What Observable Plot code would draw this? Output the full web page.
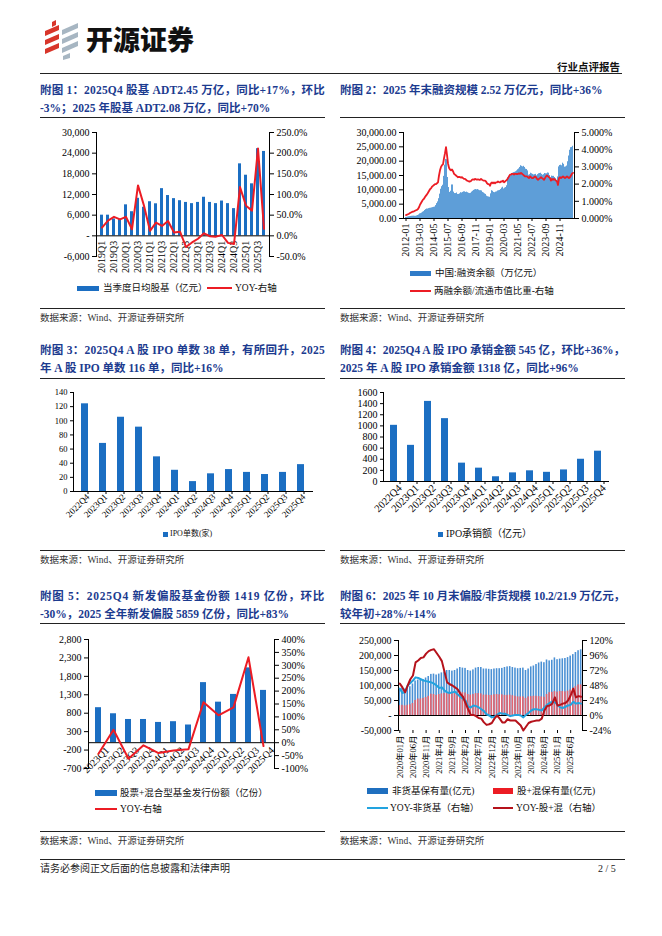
<!DOCTYPE html>
<html><head><meta charset="utf-8">
<script src="https://cdn.jsdelivr.net/npm/d3@7"></script>
<script src="https://cdn.jsdelivr.net/npm/@observablehq/plot@0.6"></script>
<style>
body{margin:0;background:#fff;}
#page{position:relative;width:662px;height:936px;overflow:hidden;background:#fff;font-family:"Liberation Serif","Noto Sans CJK SC",serif;}
.title{position:absolute;color:#1c3b8f;font-weight:bold;font-size:11.5px;line-height:18px;white-space:nowrap;}
.title span{display:inline-block;}
.hline{position:absolute;height:0;border-top:1px solid #222;}
.src{position:absolute;font-size:9.5px;line-height:12px;color:#333;white-space:nowrap;}
.leg{position:absolute;font-size:9.5px;line-height:12px;white-space:nowrap;color:#111;}
.sw{position:absolute;}
.chart{position:absolute;}
.chart svg{position:absolute;left:0;top:0;overflow:visible;}
</style></head>
<body><div id="page"></div>
<script>
// ---------------- DATA ----------------
// Chart 1: quarterly stock+fund ADT (亿元) and YoY (%)
const c1Quarters = ["2019Q1","2019Q2","2019Q3","2019Q4","2020Q1","2020Q2","2020Q3","2020Q4","2021Q1","2021Q2","2021Q3","2021Q4","2022Q1","2022Q2","2022Q3","2022Q4","2023Q1","2023Q2","2023Q3","2023Q4","2024Q1","2024Q2","2024Q3","2024Q4","2025Q1","2025Q2","2025Q3","2025Q4"];
const c1Adt = [6000,6000,4900,4800,9000,7000,10900,8300,9900,9300,13700,11700,10800,10200,9700,9350,9700,11200,9700,9350,10100,9350,7900,20900,17600,15100,25300,24500];
const c1Yoy = [20,37,46,40,46,16,122,73,12,32,24,36,8,10,-27,-16,-7,6,-1,-2,2,-17,-20,118,73,61,211,17];
const c1TickLabels = ["2019Q1","2019Q3","2020Q1","2020Q3","2021Q1","2021Q3","2022Q1","2022Q3","2023Q1","2023Q3","2024Q1","2024Q3","2025Q1","2025Q3"];
const c1LeftTicks = [-6000,0,6000,12000,18000,24000,30000];
const c1RightTicks = [-50,0,50,100,150,200,250];

// Chart 2: monthly margin financing balance (亿元) and ratio (%)
const c2Years = [2012,2013,2014,2015,2016,2017,2018,2019,2020,2021,2022,2023,2024,2025];
const c2Balance = [
 380,420,520,600,660,720,780,800,820,780,780,900,
 1050,1250,1600,1700,1900,2200,2400,2800,3100,3300,3300,3450,
 3550,3600,3700,3800,3900,4000,4500,5200,5800,6900,8500,10200,
 11100,11600,14700,18600,20600,20500,14300,10800,9100,9500,11700,11700,
 9200,8700,8700,8900,8400,8400,8600,9000,8900,9100,9300,9300,
 9100,9200,9000,8800,8700,8800,9200,9500,9800,10000,10100,10000,
 10100,9900,9700,9700,9600,9100,8900,8600,8400,7800,7600,7500,
 7400,8600,9700,9500,9100,9000,9200,9300,9600,9700,9800,10100,
 10600,10900,10300,10600,10800,11400,14200,14700,14600,14900,15600,15800,
 16000,16100,16300,16600,17000,17300,17800,18400,18200,18000,18200,17800,
 17200,17100,16600,15100,15300,15800,15600,15400,15200,15300,15400,14900,
 15300,15600,15700,15800,15400,15100,15300,15700,15600,15600,15900,15800,
 15000,14200,14800,14700,14700,14300,13900,13300,14500,18000,18500,18600,
 18400,19300,18900,17900,18000,18300,19800,21800,23800,24700,24800,25200];
const c2Ratio = [
 0.20,0.22,0.25,0.28,0.32,0.35,0.38,0.40,0.42,0.45,0.48,0.50,
 0.55,0.65,0.80,0.90,1.00,1.10,1.15,1.25,1.33,1.40,1.50,1.60,
 1.70,1.75,1.85,1.90,1.95,2.00,2.00,2.05,2.10,2.50,2.80,3.00,
 3.10,3.15,3.50,3.80,4.15,3.70,3.20,2.95,2.85,2.80,2.85,2.75,
 2.60,2.55,2.50,2.45,2.40,2.42,2.40,2.38,2.40,2.35,2.30,2.30,
 2.25,2.20,2.18,2.15,2.15,2.18,2.25,2.28,2.25,2.30,2.28,2.25,
 2.28,2.25,2.25,2.30,2.25,2.22,2.20,2.20,2.15,2.05,2.00,2.00,
 1.90,2.05,2.10,2.05,2.10,2.05,2.10,2.10,2.15,2.12,2.10,2.15,
 2.15,2.20,2.10,2.15,2.20,2.25,2.35,2.45,2.55,2.55,2.60,2.60,
 2.55,2.60,2.60,2.58,2.60,2.62,2.60,2.65,2.60,2.55,2.50,2.45,
 2.45,2.45,2.40,2.35,2.45,2.40,2.35,2.35,2.40,2.45,2.40,2.30,
 2.25,2.30,2.35,2.40,2.35,2.30,2.25,2.35,2.45,2.50,2.45,2.40,
 2.35,2.20,2.30,2.25,2.30,2.25,2.20,2.15,1.95,2.35,2.40,2.35,
 2.40,2.45,2.40,2.35,2.40,2.45,2.40,2.35,2.40,2.50,2.60,2.65];
const c2TickLabels = ["2012-01","2013-03","2014-05","2015-07","2016-09","2017-11","2019-01","2020-03","2021-05","2022-07","2023-09","2024-11"];
const c2LeftTicks = [0,5000,10000,15000,20000,25000,30000];
const c2RightTicks = [0,1,2,3,4,5];

// Chart 3 & 4: quarterly A-share IPO count and underwriting amount (亿元)
const c34Quarters = ["2022Q4","2023Q1","2023Q2","2023Q3","2023Q4","2024Q1","2024Q2","2024Q3","2024Q4","2025Q1","2025Q2","2025Q3","2025Q4"];
const c3Count = [124,68,105,91,49,30,14,25,31,27,24,27,38];
const c3Ticks = [0,20,40,60,80,100,120,140];
const c4Amount = [1010,650,1440,1130,330,240,85,155,192,165,208,400,545];
const c4Ticks = [0,200,400,600,800,1000,1200,1400,1600];

// Chart 5: new equity+hybrid fund issuance (亿份) and YoY (%)
const c5Quarters = ["2023Q1","2023Q2","2023Q3","2023Q4","2024Q1","2024Q2","2024Q3","2024Q4","2025Q1","2025Q2","2025Q3","2025Q4"];
const c5Issue = [950,785,630,630,550,570,480,1630,1100,1310,2030,1419];
const c5Yoy = [-43,50,-62,-10,-40,-30,-25,157,106,137,331,-13];
const c5LeftTicks = [-700,-200,300,800,1300,1800,2300,2800];
const c5RightTicks = [-100,-50,0,50,100,150,200,250,300,350,400];

// Chart 6: monthly non-money fund AUM & equity+hybrid AUM (亿元), YoY (%)
const c6Start = 2020, c6Count = 70;
const c6NonMoney = [
 90000,92000,88000,93000,96000,105000,115000,118000,118000,120000,125000,130000,
 137000,138000,135000,138000,142000,145000,150000,150000,148000,150000,155000,160000,
 158000,157000,150000,148000,152000,158000,160000,160000,155000,155000,154000,153000,
 155000,156000,156000,157000,160000,162000,163000,160000,158000,156000,157000,158000,
 150000,155000,162000,165000,170000,175000,178000,176000,185000,182000,184000,192000,
 186000,188000,189000,190000,193000,198000,203000,210000,216000,219000];
const c6Equity = [
 33000,34000,32000,34000,36000,40000,50000,55000,55000,57000,60000,64000,
 71000,70000,67000,70000,72000,73000,76000,76000,74000,75000,77000,79000,
 76000,75000,70000,68000,70000,73000,73000,72000,68000,68000,67000,67000,
 69000,70000,69000,69000,67000,67000,68000,66000,64000,62000,62000,62000,
 57000,62000,63000,64000,64000,63000,62000,61000,70000,76000,77000,79700,
 78000,80000,80000,79000,81000,85000,90000,96000,102000,102000];
const c6YoyNonMoney = [
 43,36,38,48,52,56,61,60,58,56,55,54,
 53,51,48,44,45,40,37,36,37,38,34,30,
 27,24,14,13,16,15,13,10,7,2,0,-3,
 -2,1,4,3,3,1,-1,0,1,1,0,-3,
 1,4,8,10,10,9,8,13,17,20,22,21,
 17,13,12,14,16,17,22,19,20,19];
const c6YoyEquity = [
 51,45,37,48,58,64,85,88,92,93,99,103,
 105,106,100,94,87,70,53,50,48,45,42,35,
 30,20,10,1,1,-1,-4,-5,-11,-15,-14,-12,
 -5,0,-5,-11,-11,-6,-8,-8,-8,-12,-16,-24,
 -18,-12,-10,-9,-8,-8,-5,8,15,16,19,29,
 16,17,19,20,24,32,43,29,31,30];
const c6TickKeys = ["2020-01","2020-06","2020-11","2021-04","2021-09","2022-02","2022-07","2022-12","2023-05","2023-10","2024-03","2024-08","2025-01","2025-06"];
const c6TickLabels = ["2020年01月","2020年06月","2020年11月","2021年4月","2021年9月","2022年2月","2022年7月","2022年12月","2023年5月","2023年10月","2024年3月","2024年8月","2025年1月","2025年6月"];
const c6LeftTicks = [-50000,0,50000,100000,150000,200000,250000];
const c6RightTicks = [-24,0,24,48,72,96,120];

// ---------------- HELPERS ----------------
const page = document.getElementById("page");
const serif = '"Liberation Serif","Times New Roman","Noto Sans CJK SC",serif';
const C = {blue:"#1b6ec2", red:"#ec1c24", navy:"#1c3b8f"};
const st = fs => ({fontFamily: serif, fontSize: fs + "px", color: "#000", background: "transparent", overflow: "visible"});
const acct = d => d === 0 ? "-" : (d < 0 ? "-" : "") + d3.format(",")(Math.abs(d));
const signed = d => (d < 0 ? "-" : "") + d3.format(",")(Math.abs(d));

function el(tag, cls, css, html) {
  const e = document.createElement(tag);
  if (cls) e.className = cls;
  Object.assign(e.style, css || {});
  if (html != null) e.innerHTML = html;
  page.appendChild(e);
  return e;
}
function hline(x1, x2, y, w) { el("div", "hline", {left: x1 + "px", top: y + "px", width: (x2 - x1) + "px", borderTopWidth: (w || 1) + "px"}); }
function chart(left, top, w, h, plots) {
  const d = el("div", "chart", {left: left + "px", top: top + "px", width: w + "px", height: h + "px"});
  plots.forEach(p => d.appendChild(p));
}
function title(x, y, lines, width) {
  const d = el("div", "title", {left: x + "px", top: y + "px", width: width + "px"});
  lines.forEach(([t, fit]) => {
    const s = document.createElement("span");
    s.textContent = t;
    if (fit) s.dataset.w = width;
    d.appendChild(s);
    d.appendChild(document.createElement("br"));
  });
}
function legText(x, yc, text, fs) {
  el("div", "leg", {left: x + "px", top: (yc - 6) + "px", fontSize: (fs || 9.5) + "px"}, text);
}
function swRect(x1, x2, yc, h, color) {
  el("div", "sw", {left: x1 + "px", top: (yc - h / 2) + "px", width: (x2 - x1) + "px", height: h + "px", background: color});
}

// ---------------- HEADER ----------------
el("div", null, {position: "absolute", left: "43px", top: "20px", width: "38px", height: "40px"},
 `<svg width="38" height="40" viewBox="0 0 38 40">
   <polygon points="9,2 13,0 13,5 9,7" fill="#d8352a"/>
   <polygon points="2,11 16,5 16,10 2,16" fill="#d8352a"/>
   <polygon points="2,20 16,14 16,19 2,25" fill="#d8352a"/>
   <polygon points="2,29 16,23 16,28 2,34" fill="#d8352a"/>
   <polygon points="19,10 35,3 35,8 19,15" fill="#a7b6c2"/>
   <polygon points="19,19 35,12 35,17 19,24" fill="#a7b6c2"/>
   <polygon points="19,28 35,21 35,26 19,33" fill="#a7b6c2"/>
   <polygon points="20,36 27,33 27,38 20,40" fill="#a7b6c2"/>
 </svg>`);
el("div", null, {position: "absolute", left: "86px", top: "23px", fontFamily: '"Noto Sans CJK SC"', fontWeight: "900", fontSize: "27px", lineHeight: "32px", letterSpacing: "0px", color: "#111"}, "开源证券");
el("div", null, {position: "absolute", right: "42px", top: "61px", fontFamily: '"Noto Sans CJK SC"', fontWeight: "bold", fontSize: "10.5px", lineHeight: "12px", color: "#111"}, "行业点评报告");
hline(40, 622, 73, 1.5);

// ---------------- TITLES & RULES ----------------
title(40, 81, [["附图 1：2025Q4 股基 ADT2.45 万亿，同比+17%，环比", true], ["-3%；2025 年股基 ADT2.08 万亿，同比+70%", false]], 285);
title(340, 81, [["附图 2：2025 年末融资规模 2.52 万亿元，同比+36%", false]], 285);
title(40, 341, [["附图 3：2025Q4 A 股 IPO 单数 38 单，有所回升，2025", true], ["年 A 股 IPO 单数 116 单，同比+16%", false]], 285);
title(340, 341, [["附图 4：2025Q4 A 股 IPO 承销金额 545 亿，环比+36%，", true], ["2025 年 A 股 IPO 承销金额 1318 亿，同比+96%", false]], 285);
title(40, 587, [["附图 5：2025Q4 新发偏股基金份额 1419 亿份，环比", true], ["-30%，2025 全年新发偏股 5859 亿份，同比+83%", false]], 285);
title(340, 587, [["附图 6：2025 年 10 月末偏股/非货规模 10.2/21.9 万亿元，", true], ["较年初+28%/+14%", false]], 285);
[117, 378, 623].forEach(y => { hline(40, 325, y, 1); hline(340, 625, y, 1); });
[[308, 312], [550, 554], [831, 835]].forEach(([y, ys]) => {
  hline(40, 325, y, 1); hline(340, 625, y, 1);
  el("div", "src", {left: "40px", top: (ys) + "px"}, "数据来源：Wind、开源证券研究所");
  el("div", "src", {left: "340px", top: (ys) + "px"}, "数据来源：Wind、开源证券研究所");
});
hline(40, 625, 859, 1.5);
el("div", "src", {left: "40px", top: "863px", fontSize: "10px", color: "#222"}, "请务必参阅正文后面的信息披露和法律声明");
el("div", "src", {left: "598px", top: "863px", fontSize: "10px", color: "#222"}, "2 / 5");

// ---------------- CHART 1 ----------------
{
  const data = c1Quarters.map((q, i) => ({q, v: c1Adt[i], yoy: c1Yoy[i]}));
  const dims = {width: 290, height: 152, marginLeft: 56, marginRight: 61, marginTop: 6, marginBottom: 22};
  const xs = {type: "band", domain: c1Quarters, paddingInner: 0.55, paddingOuter: 0.28, axis: null};
  const a = Plot.plot({...dims, style: st(10), x: xs, y: {domain: [-6000, 30000], label: null},
    marks: [
      Plot.barY(data, {x: "q", y: "v", fill: C.blue}),
      Plot.ruleY([0], {stroke: "#000", strokeWidth: 1}),
      Plot.text(c1TickLabels, {x: d => d, y: 0, text: d => d, rotate: -90, textAnchor: "end", dy: 5, fontSize: 10}),
      Plot.axisY({ticks: c1LeftTicks, tickFormat: acct, tickSize: 4, tickPadding: 3, label: null}),
      Plot.frame({anchor: "left"})
    ]});
  const b = Plot.plot({...dims, style: st(10), x: xs, y: {domain: [-50, 250], label: null},
    marks: [
      Plot.axisY({anchor: "right", ticks: c1RightTicks, tickFormat: d => d.toFixed(1) + "%", tickSize: 4, tickPadding: 3, label: null}),
      Plot.frame({anchor: "right"}),
      Plot.line(data, {x: "q", y: "yoy", stroke: C.red, strokeWidth: 2})
    ]});
  chart(40, 126, 290, 152, [a, b]);
  swRect(77, 99, 288, 5, C.blue); legText(103, 288, "当季度日均股基（亿元）");
  swRect(207, 232, 288, 2.5, C.red); legText(235, 288, "YOY-右轴");
}

// ---------------- CHART 2 ----------------
{
  const months = [];
  c2Years.forEach(y => { for (let m = 1; m <= 12; m++) months.push(y + "-" + String(m).padStart(2, "0")); });
  const data = months.map((m, i) => ({m, v: c2Balance[i], r: c2Ratio[i]}));
  const dims = {width: 295, height: 140, marginLeft: 73, marginRight: 51, marginTop: 6, marginBottom: 48};
  const xs = {type: "band", domain: months, paddingInner: 0.15, paddingOuter: 0.1};
  const a = Plot.plot({...dims, style: st(10), x: {...xs, label: null}, y: {domain: [0, 30000], label: null},
    marks: [
      Plot.barY(data, {x: "m", y: "v", fill: "#5e9ed8"}),
      Plot.axisY({ticks: c2LeftTicks, tickFormat: d3.format(",.2f"), tickSize: 4, tickPadding: 3, label: null}),
      Plot.axisX({ticks: c2TickLabels, tickRotate: -90, tickSize: 3, tickPadding: 2, label: null}),
      Plot.frame({anchor: "left"}),
      Plot.ruleY([0], {stroke: "#000"})
    ]});
  const b = Plot.plot({...dims, style: st(10), x: {...xs, axis: null}, y: {domain: [0, 5], label: null},
    marks: [
      Plot.axisY({anchor: "right", ticks: c2RightTicks, tickFormat: d => d.toFixed(3) + "%", tickSize: 4, tickPadding: 3, label: null}),
      Plot.frame({anchor: "right"}),
      Plot.line(data, {x: "m", y: "r", stroke: C.red, strokeWidth: 1.8})
    ]});
  chart(330, 126, 295, 140, [a, b]);
  swRect(410, 431, 273, 5, "#2f7bc8"); legText(435, 273, "中国:融资余额（万亿元）");
  swRect(410, 431, 291, 2.5, C.red); legText(434, 291, "两融余额/流通市值比重-右轴");
}

// ---------------- CHART 3 ----------------
{
  const data = c34Quarters.map((q, i) => ({q, v: c3Count[i]}));
  const p = Plot.plot({width: 285, height: 135, marginLeft: 33, marginRight: 12, marginTop: 6, marginBottom: 30,
    style: st(9), x: {type: "band", domain: c34Quarters, paddingInner: 0.6, paddingOuter: 0.35, label: null},
    y: {domain: [0, 140], label: null},
    marks: [
      Plot.barY(data, {x: "q", y: "v", fill: C.blue}),
      Plot.axisY({ticks: c3Ticks, tickFormat: d => String(d), tickSize: 3, tickPadding: 3, fontSize: 8.5, label: null}),
      Plot.axisX({tickRotate: -45, tickSize: 3, tickPadding: 1, dx: 3, fontSize: 9, label: null}),
      Plot.frame({anchor: "left"}),
      Plot.ruleY([0], {stroke: "#000"})
    ]});
  chart(40, 386, 285, 135, [p]);
  swRect(163, 168, 534, 5, C.blue); legText(170, 534, "IPO单数(家)", 8);
}

// ---------------- CHART 4 ----------------
{
  const data = c34Quarters.map((q, i) => ({q, v: c4Amount[i]}));
  const p = Plot.plot({width: 290, height: 135, marginLeft: 48, marginRight: 16, marginTop: 6, marginBottom: 40,
    style: st(10), x: {type: "band", domain: c34Quarters, paddingInner: 0.58, paddingOuter: 0.35, label: null},
    y: {domain: [0, 1600], label: null},
    marks: [
      Plot.barY(data, {x: "q", y: "v", fill: C.blue}),
      Plot.axisY({ticks: c4Ticks, tickFormat: d => String(d), tickSize: 3, tickPadding: 3, fontSize: 10, label: null}),
      Plot.axisX({tickRotate: -45, tickSize: 3, tickPadding: 2, dx: 6, fontSize: 10.5, label: null}),
      Plot.frame({anchor: "left"}),
      Plot.ruleY([0], {stroke: "#000"})
    ]});
  chart(335, 386, 290, 135, [p]);
  swRect(438, 443, 534, 5, C.blue); legText(446, 534, "IPO承销额（亿元）", 10);
}

// ---------------- CHART 5 ----------------
{
  const data = c5Quarters.map((q, i) => ({q, v: c5Issue[i], yoy: c5Yoy[i]}));
  const dims = {width: 285, height: 145, marginLeft: 48, marginRight: 51, marginTop: 6, marginBottom: 10};
  const xs = {type: "band", domain: c5Quarters, paddingInner: 0.57, paddingOuter: 0.12, axis: null};
  const a = Plot.plot({...dims, style: st(10), x: xs, y: {domain: [-700, 2800], label: null},
    marks: [
      Plot.barY(data, {x: "q", y: "v", fill: C.blue}),
      Plot.ruleY([0], {stroke: "#000"}),
      Plot.axisY({ticks: c5LeftTicks, tickFormat: signed, tickSize: 4, tickPadding: 3, label: null}),
      Plot.frame({anchor: "left"}),
      Plot.text(c5Quarters, {x: d => d, y: 0, text: d => d, rotate: -45, textAnchor: "end", dx: 9, dy: 6, fontSize: 10})
    ]});
  const b = Plot.plot({...dims, style: st(10), x: xs, y: {domain: [-100, 400], label: null},
    marks: [
      Plot.axisY({anchor: "right", ticks: c5RightTicks, tickFormat: d => d + "%", tickSize: 4, tickPadding: 3, label: null}),
      Plot.frame({anchor: "right"}),
      Plot.line(data, {x: "q", y: "yoy", stroke: C.red, strokeWidth: 2})
    ]});
  chart(40, 633, 285, 145, [a, b]);
  swRect(95, 117, 793, 6, C.blue); legText(120, 793, "股票+混合型基金发行份额（亿份）");
  swRect(95, 117, 809, 2.5, C.red); legText(120, 809, "YOY-右轴");
}

// ---------------- CHART 6 ----------------
{
  const months = [];
  for (let i = 0; i < c6Count; i++) {
    const y = c6Start + Math.floor(i / 12), m = i % 12 + 1;
    months.push(y + "-" + String(m).padStart(2, "0"));
  }
  const data = months.map((m, i) => ({m, nm: c6NonMoney[i], eq: c6Equity[i], ynm: c6YoyNonMoney[i], yeq: c6YoyEquity[i]}));
  const tickMap = new Map(c6TickKeys.map((k, i) => [k, c6TickLabels[i]]));
  const dims = {width: 295, height: 145, marginLeft: 68, marginRight: 43, marginTop: 6, marginBottom: 49};
  const xs = {type: "band", domain: months, paddingInner: 0.4, paddingOuter: 0.2};
  const a = Plot.plot({...dims, style: st(10), x: {...xs, label: null}, y: {domain: [-50000, 250000], label: null},
    marks: [
      Plot.barY(data, {x: "m", y: "nm", fill: "#4a90d4"}),
      Plot.barY(data, {x: "m", y: "eq", fill: "#e3646f"}),
      Plot.ruleY([0], {stroke: "#000", strokeWidth: 1.2}),
      Plot.axisY({ticks: c6LeftTicks, tickFormat: acct, tickSize: 4, tickPadding: 3, label: null}),
      Plot.axisX({ticks: c6TickKeys, tickFormat: k => tickMap.get(k), tickRotate: -90, tickSize: 3, tickPadding: 2, fontSize: 8.5, fontFamily: serif, label: null}),
      Plot.frame({anchor: "left"})
    ]});
  const b = Plot.plot({...dims, style: st(10), x: {...xs, axis: null}, y: {domain: [-24, 120], label: null},
    marks: [
      Plot.axisY({anchor: "right", ticks: c6RightTicks, tickFormat: d => d + "%", tickSize: 4, tickPadding: 3, label: null}),
      Plot.frame({anchor: "right"}),
      Plot.line(data, {x: "m", y: "ynm", stroke: "#22a3df", strokeWidth: 2}),
      Plot.line(data, {x: "m", y: "yeq", stroke: "#b5121b", strokeWidth: 2})
    ]});
  chart(330, 634, 295, 145, [a, b]);
  swRect(367, 388, 791, 6, "#1f6fbf"); legText(392, 791, "非货基保有量(亿元)");
  swRect(493, 513, 791, 6, "#ec1c24"); legText(517, 791, "股+混保有量(亿元)");
  swRect(367, 388, 808, 2.5, "#22a3df"); legText(390, 808, "YOY-非货基（右轴）");
  swRect(493, 513, 808, 2.5, "#b5121b"); legText(516, 808, "YOY-股+混（右轴）");
}

// fit justified title lines to the column width
document.querySelectorAll(".title span[data-w]").forEach(s => {
  const target = +s.dataset.w;
  const w = s.getBoundingClientRect().width;
  const n = s.textContent.length;
  s.style.letterSpacing = ((target - w) / n) + "px";
});
</script>
</body></html>
